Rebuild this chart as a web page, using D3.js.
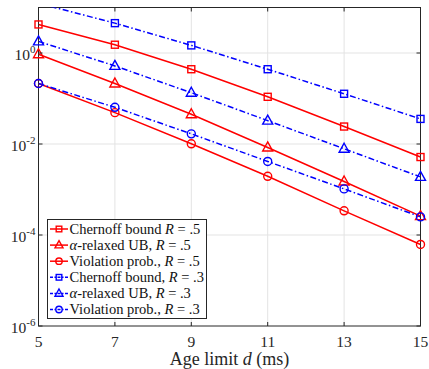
<!DOCTYPE html>
<html>
<head>
<meta charset="utf-8">
<script src="https://cdn.jsdelivr.net/npm/d3@7"></script>
<style>
  body { margin: 0; background: #fff; }
</style>
</head>
<body>
<div id="chart"></div>
<script>
const width = 429;
const height = 369;
const margin = { top: 7.5, right: 8.5, bottom: 43, left: 38.5 };

const ageLimits = [5, 7, 9, 11, 13, 15];
const xTicks = [5, 7, 9, 11, 13, 15];
const yTicks = [1e-6, 1e-4, 1e-2, 1e0];

const chernoffR5 = [4.24, 1.52, 0.44, 0.109, 0.0242, 0.00517];
const relaxedR5 = [0.94, 0.214, 0.045, 0.0084, 0.0015, 0.00026];
const violationR5 = [0.214, 0.0489, 0.0101, 0.00195, 0.00034, 0.000062];
const chernoffR3 = [12.4, 4.53, 1.47, 0.44, 0.127, 0.0356];
const relaxedR3 = [1.8, 0.52, 0.134, 0.0327, 0.00785, 0.00189];
const violationR3 = [0.214, 0.064, 0.0167, 0.00414, 0.00103, 0.00025];

const seriesNames = [
  "Chernoff bound R = .5",
  "α-relaxed UB, R = .5",
  "Violation prob., R = .5",
  "Chernoff bound, R = .3",
  "α-relaxed UB, R = .3",
  "Violation prob., R = .3"
];

const series = [
  { values: chernoffR5, color: "#ff0000", marker: "square", dash: null },
  { values: relaxedR5, color: "#ff0000", marker: "triangle", dash: null },
  { values: violationR5, color: "#ff0000", marker: "circle", dash: null },
  { values: chernoffR3, color: "#0000ff", marker: "square", dash: "6,2.5,1.5,2.5" },
  { values: relaxedR3, color: "#0000ff", marker: "triangle", dash: "6,2.5,1.5,2.5" },
  { values: violationR3, color: "#0000ff", marker: "circle", dash: "6,2.5,1.5,2.5" }
];

const serif = "'Liberation Serif', 'DejaVu Serif', serif";

const svg = d3.select("#chart").append("svg")
  .attr("width", width)
  .attr("height", height)
  .attr("font-family", serif);

const x = d3.scaleLinear()
  .domain([5, 15])
  .range([margin.left, width - margin.right]);

const y = d3.scaleLog()
  .domain([1e-6, 10])
  .range([height - margin.bottom, margin.top]);

const plotW = x.range()[1] - x.range()[0];
const plotH = y.range()[0] - y.range()[1];

// grid
svg.append("g")
  .selectAll("line")
  .data(xTicks.slice(1, -1))
  .join("line")
  .attr("x1", d => x(d)).attr("x2", d => x(d))
  .attr("y1", y.range()[1]).attr("y2", y.range()[0])
  .attr("stroke", "#e3e3e3").attr("stroke-width", 1);

svg.append("g")
  .selectAll("line")
  .data(yTicks.slice(1))
  .join("line")
  .attr("x1", x.range()[0]).attr("x2", x.range()[1])
  .attr("y1", d => y(d)).attr("y2", d => y(d))
  .attr("stroke", "#e3e3e3").attr("stroke-width", 1);

// clip for lines
svg.append("clipPath").attr("id", "plotclip")
  .append("rect")
  .attr("x", x.range()[0]).attr("y", y.range()[1])
  .attr("width", plotW).attr("height", plotH);

const lineGen = d3.line()
  .x((d, i) => x(ageLimits[i]))
  .y(d => y(d));

const axisColor = "#262626";

// axes box
svg.append("rect")
  .attr("x", x.range()[0]).attr("y", y.range()[1])
  .attr("width", plotW).attr("height", plotH)
  .attr("fill", "none").attr("stroke", axisColor).attr("stroke-width", 1);

const plot = svg.append("g").attr("clip-path", "url(#plotclip)");
const markers = svg.append("g");

function drawMarker(g, type, color, k = 1) {
  if (type === "square") {
    g.append("rect")
      .attr("x", -3.5 * k).attr("y", -3.5 * k).attr("width", 7 * k).attr("height", 7 * k)
      .attr("fill", "none").attr("stroke", color).attr("stroke-width", 1.4);
  } else if (type === "triangle") {
    g.append("path")
      .attr("d", `M0,${-5.5 * k}L${5 * k},${3.5 * k}L${-5 * k},${3.5 * k}Z`)
      .attr("fill", "none").attr("stroke", color).attr("stroke-width", 1.4);
  } else {
    g.append("circle")
      .attr("r", 4 * k)
      .attr("fill", "none").attr("stroke", color).attr("stroke-width", 1.4);
  }
}

series.forEach(s => {
  plot.append("path")
    .datum(s.values)
    .attr("d", lineGen)
    .attr("fill", "none")
    .attr("stroke", s.color)
    .attr("stroke-width", 1.5)
    .attr("stroke-dasharray", s.dash);

  s.values.forEach((v, i) => {
    if (v > 10) return;
    const g = markers.append("g")
      .attr("transform", `translate(${x(ageLimits[i])},${y(v)})`);
    drawMarker(g, s.marker, s.color);
  });
});

// ticks
const tickLen = 4;
xTicks.forEach(t => {
  svg.append("line")
    .attr("x1", x(t)).attr("x2", x(t))
    .attr("y1", y.range()[0]).attr("y2", y.range()[0] - tickLen)
    .attr("stroke", axisColor);
  svg.append("line")
    .attr("x1", x(t)).attr("x2", x(t))
    .attr("y1", y.range()[1]).attr("y2", y.range()[1] + tickLen)
    .attr("stroke", axisColor);
  svg.append("text")
    .attr("x", x(t)).attr("y", y.range()[0] + 20.5)
    .attr("text-anchor", "middle")
    .attr("font-size", 15.5)
    .attr("fill", axisColor)
    .text(t);
});

yTicks.forEach(t => {
  svg.append("line")
    .attr("x1", x.range()[0]).attr("x2", x.range()[0] + tickLen)
    .attr("y1", y(t)).attr("y2", y(t))
    .attr("stroke", axisColor);
  svg.append("line")
    .attr("x1", x.range()[1]).attr("x2", x.range()[1] - tickLen)
    .attr("y1", y(t)).attr("y2", y(t))
    .attr("stroke", axisColor);
  const exp = Math.round(Math.log10(t));
  const txt = svg.append("text")
    .attr("x", x.range()[0] - 3).attr("y", y(t) + 7)
    .attr("text-anchor", "end")
    .attr("font-size", 15.5)
    .attr("fill", axisColor);
  txt.append("tspan").text("10");
  txt.append("tspan")
    .attr("font-size", 11)
    .attr("dy", -7)
    .text(exp);
});

// x label
const xl = svg.append("text")
  .attr("x", (x.range()[0] + x.range()[1]) / 2)
  .attr("y", height - 4.5)
  .attr("text-anchor", "middle")
  .attr("font-size", 18)
  .attr("fill", axisColor);
xl.append("tspan").text("Age limit ");
xl.append("tspan").attr("font-style", "italic").text("d");
xl.append("tspan").text(" (ms)");

// legend
const legend = svg.append("g").attr("transform", "translate(47.5,219.5)");
legend.append("rect")
  .attr("width", 159).attr("height", 99)
  .attr("fill", "#fff").attr("stroke", axisColor).attr("stroke-width", 1);

function legendText(el, name) {
  const parts = name.split("R");
  parts.forEach((p, i) => {
    if (p.startsWith("α")) {
      el.append("tspan").attr("font-style", "italic").text("α");
      el.append("tspan").text(p.slice(1));
    } else {
      el.append("tspan").text(p);
    }
    if (i < parts.length - 1) el.append("tspan").attr("font-style", "italic").text("R");
  });
}

series.forEach((s, i) => {
  const row = legend.append("g").attr("transform", `translate(0,${9.5 + i * 16.1})`);
  row.append("line")
    .attr("x1", 2.5).attr("x2", 20.5)
    .attr("stroke", s.color).attr("stroke-width", 1.5)
    .attr("stroke-dasharray", s.dash ? "3,1.5,1.5,1.5" : null);
  const m = row.append("g").attr("transform", "translate(11.5,0)");
  drawMarker(m, s.marker, s.color, 0.8);
  const t = row.append("text")
    .attr("x", 22).attr("y", 4.8)
    .attr("font-size", 14.5)
    .attr("fill", "#111");
  legendText(t, seriesNames[i]);
});
</script>
</body>
</html>
